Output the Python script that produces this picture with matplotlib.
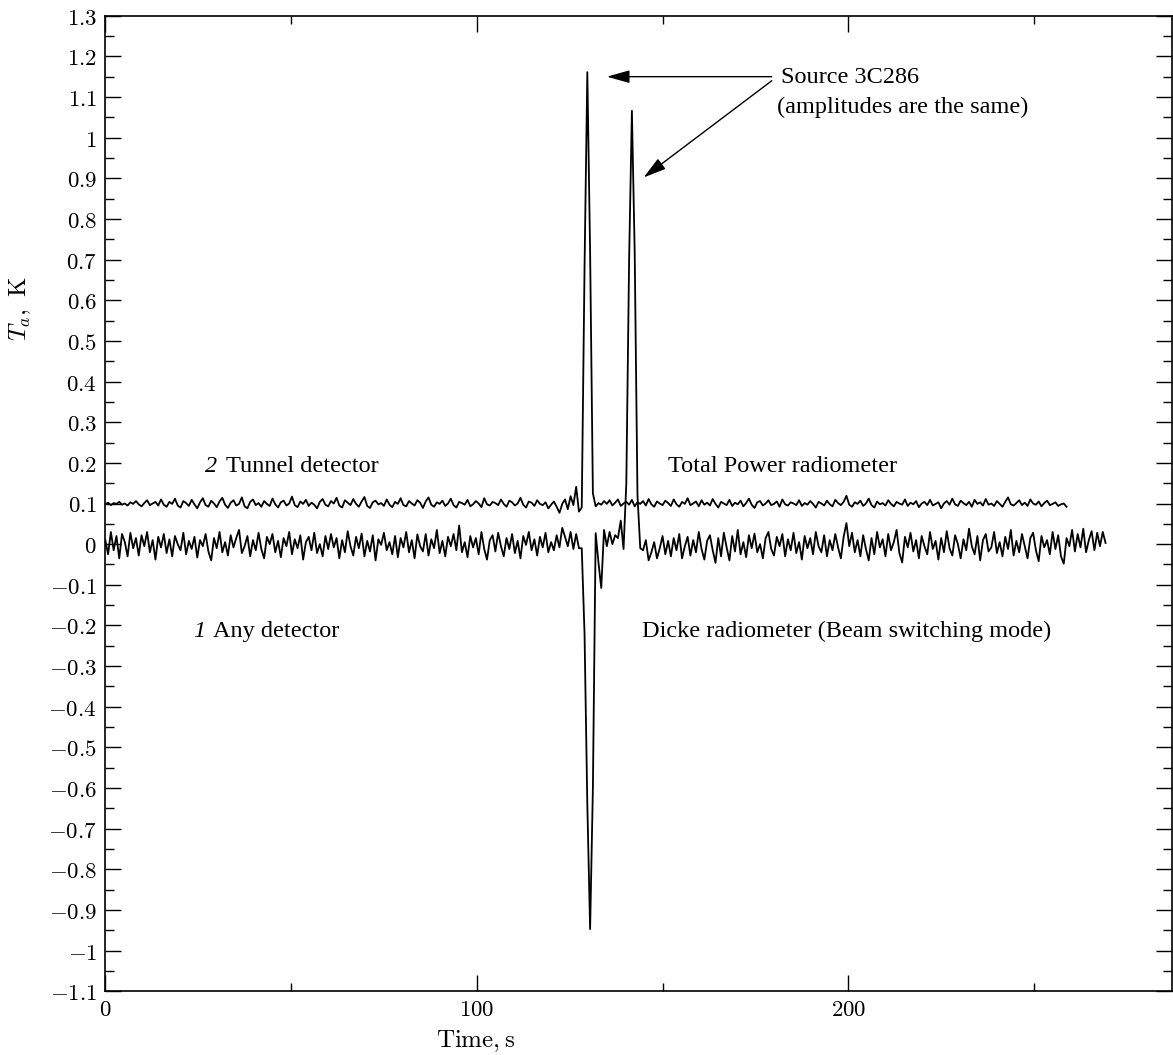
import numpy as np
import matplotlib
matplotlib.use("Agg")
import matplotlib.pyplot as plt
from matplotlib.ticker import MultipleLocator, FixedLocator, FuncFormatter

plt.rcParams['mathtext.fontset'] = 'cm'

# ---------------- data ----------------
dt = 0.75  # sampling step, s

# Total Power radiometer (tunnel detector), values in mK
tp_mK = [
    98,102,96,101,99,104,97,100,95,103,99,106,98,93,101,108,96,100,104,95,
    110,97,92,104,99,112,95,90,106,101,94,109,98,88,103,113,96,92,107,100,
    91,105,114,97,89,102,108,95,99,115,93,88,104,110,96,101,92,106,99,94,
    112,98,90,103,107,95,100,117,96,91,105,99,109,94,102,97,88,104,111,97,
    93,106,100,114,95,90,108,102,96,111,99,92,105,116,94,89,103,107,98,101,
    94,110,97,91,104,99,113,96,93,106,100,95,108,102,89,105,115,97,92,103,
    99,107,94,100,112,96,90,104,101,97,109,93,98,106,100,91,113,98,95,104,
    101,96,110,99,92,107,103,95,100,114,97,90,105,102,94,108,99,96,103,88,
    97,105,92,77,99,110,86,118,96,141,80,90,680,1161,720,125,93,101,97,106,
    99,108,95,102,110,94,100,104,97,109,93,103,99,106,95,111,98,92,105,100,
    96,107,101,94,110,98,92,104,99,113,96,100,105,93,108,97,102,95,111,99,
    90,104,100,96,109,94,102,98,107,93,101,112,97,89,103,106,95,100,108,96,
    99,105,92,110,98,95,103,100,96,108,94,101,97,106,99,90,104,100,95,107,
    98,93,109,101,96,104,119,97,92,103,99,107,94,100,112,96,90,105,98,101,
    95,108,99,93,104,100,97,110,94,102,98,106,91,100,104,96,109,95,99,103,
    88,100,106,97,112,98,94,107,101,96,104,92,109,99,103,95,111,97,100,94,
    106,99,92,104,115,98,95,101,108,96,102,94,110,100,97,105,93,101,107,96,
    99,103,94,98,100,92,
]

# Dicke radiometer (beam switching mode, any detector), values in mK
dk_mK = [
    10,-25,30,-15,20,-35,25,5,-30,28,-10,15,-28,22,-5,30,-20,10,-38,18,
    -8,25,-22,12,-30,20,0,-15,28,-25,8,-12,18,-33,10,-5,25,-18,-40,15,
    -10,30,-20,5,-28,22,-8,15,35,-22,-5,20,-30,10,-15,28,-12,-35,18,0,
    25,-20,8,-32,15,-5,30,-25,12,-10,22,-38,5,18,-15,28,-22,0,-30,20,
    -12,25,-8,15,-35,10,-20,32,-5,-28,18,-10,26,-30,8,-18,22,-40,12,-2,
    28,-15,5,-25,20,-32,15,-8,30,-20,10,-35,24,-5,-18,25,-28,12,-10,35,
    -22,8,-30,18,-5,25,-15,46,-20,5,-32,20,-8,15,-25,30,-12,-38,10,22,
    -18,28,-5,-30,15,-12,25,-22,8,-35,20,-2,30,-15,12,-28,18,-8,28,-20,
    5,-15,22,-8,40,18,-5,30,-12,25,-10,-10,-220,-640,-947,-600,27,-45,-108,35,
    -5,30,0,22,15,58,-12,150,700,1066,720,120,-10,-15,10,-40,-20,5,-35,-10,
    20,-25,8,-30,15,-15,25,-35,-5,18,-28,10,-20,30,-12,-38,8,22,-15,-46,
    15,-30,28,-8,-40,20,-18,35,-25,5,-32,22,-10,26,-20,0,-35,15,30,-12,
    -28,18,-5,25,-30,12,-15,28,-22,5,-38,20,-10,15,-25,30,-5,-20,22,-30,
    10,-15,25,-8,-35,18,52,-5,28,-20,10,-30,22,-12,-40,15,-25,30,-8,12,
    -30,25,-15,5,35,-22,-45,18,-8,28,-18,10,-35,20,-5,-25,30,-12,8,-38,
    15,-20,32,-10,-28,22,0,-35,12,-15,38,-5,-25,20,-40,10,25,-18,-8,30,
    -22,5,-30,18,-12,35,-28,8,-20,25,-5,-35,15,28,-15,-42,20,-8,10,-25,
    30,-12,22,-30,-48,15,-5,35,-18,25,-8,38,-20,10,32,-15,28,-5,30,3,
]

y_ticks = [round(-1.1 + 0.1 * i, 1) for i in range(25)]
x_ticks = [0, 100, 200]

tp = np.array(tp_mK) / 1000.0
dk = np.array(dk_mK) / 1000.0
t_tp = np.arange(len(tp)) * dt
t_dk = np.arange(len(dk)) * dt

# ---------------- figure ----------------
W, H = 1173, 1055
fig = plt.figure(figsize=(W / 100, H / 100), dpi=100)
ax = fig.add_axes([105.3 / W, (H - 991.3) / H, (1171.5 - 105.3) / W, (991.3 - 15.7) / H])

ax.plot(t_tp, tp, color='black', lw=1.3)
ax.plot(t_dk, dk, color='black', lw=1.3)

ax.set_xlim(0, 287)
ax.set_ylim(-1.1, 1.3)

ax.yaxis.set_major_locator(FixedLocator(y_ticks))
ax.yaxis.set_minor_locator(MultipleLocator(0.05))
ax.xaxis.set_major_locator(FixedLocator(x_ticks))
ax.xaxis.set_minor_locator(MultipleLocator(50))


def yfmt(v, pos):
    s = ('%.1f' % v).rstrip('0').rstrip('.')
    if s in ('-0', '0'):
        s = '0'
    return r'$%s$' % s


ax.yaxis.set_major_formatter(FuncFormatter(yfmt))
ax.xaxis.set_major_formatter(FuncFormatter(lambda v, p: r'$%d$' % v))

ax.tick_params(which='both', direction='in', top=True, right=True,
               labelsize=16.5, width=1.0, color='black')
ax.tick_params(axis='y', which='major', length=11.5, pad=6)
ax.tick_params(axis='y', which='minor', length=6.5)
ax.tick_params(axis='x', which='major', length=11.5, pad=5)
ax.tick_params(axis='x', which='minor', length=6)
for sp in ax.spines.values():
    sp.set_linewidth(1.2)

ax.set_xlabel(r'$\mathrm{Time,s}$', fontsize=18)
ax.xaxis.set_label_coords((476 - 105.3) / (1171.5 - 105.3), -0.038)
ax.set_ylabel(r'$T_a\mathrm{,\ K}$', fontsize=18)
ax.yaxis.set_label_coords(-0.068, 0.70)

tfont = dict(family='Liberation Serif', fontsize=17.5, color='black')

ax.text(26.8, 0.19, r'2', style='italic', va='center', ha='left', **tfont)
ax.text(32.5, 0.19, 'Tunnel detector', va='center', ha='left', **tfont)
ax.text(151.4, 0.19, 'Total Power radiometer', va='center', ha='left', **tfont)
ax.text(23.6, -0.215, r'1', style='italic', va='center', ha='left', **tfont)
ax.text(29.0, -0.215, 'Any detector', va='center', ha='left', **tfont)
ax.text(144.4, -0.215, 'Dicke radiometer (Beam switching mode)', va='center', ha='left', **tfont)
ax.text(181.8, 1.149, 'Source 3C286', va='center', ha='left', **tfont)
ax.text(180.7, 1.074, '(amplitudes are the same)', va='center', ha='left', **tfont)

aprops = dict(arrowstyle='-|>,head_length=1.0,head_width=0.28', color='black',
              lw=1.0, mutation_scale=14, shrinkA=0, shrinkB=0)
ax.annotate('', xy=(135.0, 1.150), xytext=(179.4, 1.150), arrowprops=aprops)
ax.annotate('', xy=(144.9, 0.902), xytext=(179.4, 1.140), arrowprops=aprops)

fig.savefig('out.png', dpi=100)
